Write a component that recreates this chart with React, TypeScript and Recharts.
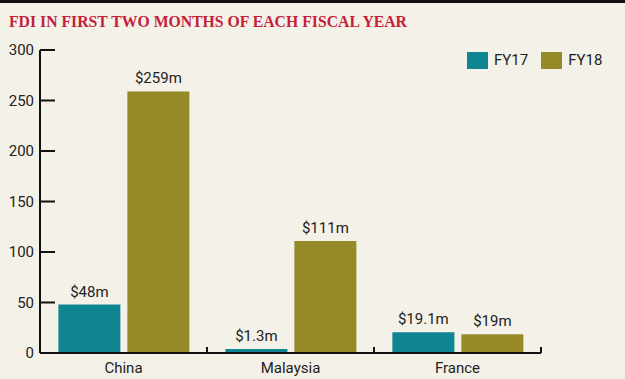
import React from "react";
import { BarChart, Bar, XAxis, YAxis, LabelList } from "recharts";

const categories = ["China", "Malaysia", "France"];
const fy17Values = [48, 4, 20.5];
const fy18Values = [259, 111, 18.5];
const fy17Labels = ["$48m", "$1.3m", "$19.1m"];
const fy18Labels = ["$259m", "$111m", "$19m"];
const yTicks = [0, 50, 100, 150, 200, 250, 300];
const seriesNames = ["FY17", "FY18"];
const title = "FDI IN FIRST TWO MONTHS OF EACH FISCAL YEAR";

const TEAL = "#0f8592";
const OLIVE = "#958a27";
const BG = "#f4f1e8";
const FONT = "'Liberation Sans Narrow', 'Roboto', sans-serif";

const data = categories.map((c, i) => ({
  name: c,
  fy17: fy17Values[i],
  fy18: fy18Values[i],
}));

const W = 625;
const H = 379;
const M = { top: 50, right: 84, left: 0, bottom: 0 };
const Y_W = 40;
const BAND = (W - M.left - M.right - Y_W) / categories.length;

const YTick = (props: any) => {
  const { x, y, payload } = props;
  const ax = x + 5;
  return (
    <g>
      <line x1={ax} x2={ax + 15} y1={y} y2={y} stroke="#111" strokeWidth={2} />
      <text x={x - 1} y={y} dy={5} textAnchor="end" fontSize={15} fill="#222" fontFamily={FONT}>
        {payload.value}
      </text>
    </g>
  );
};

const XTick = (props: any) => {
  const { x, y, payload } = props;
  const bx = x + BAND / 2;
  return (
    <g>
      <line x1={bx} x2={bx} y1={y - 8} y2={y - 14} stroke="#111" strokeWidth={2} />
      <text x={x} y={y} dy={12} textAnchor="middle" fontSize={15} fill="#222" fontFamily={FONT}>
        {payload.value}
      </text>
    </g>
  );
};

const makeLabel = (labels: string[]) => (props: any) => {
  const { x, y, width, index } = props;
  return (
    <text x={x + width / 2} y={y - 8} textAnchor="middle" fontSize={15} fill="#222" fontFamily={FONT}>
      {labels[index]}
    </text>
  );
};

const LegendBox = () => (
  <div
    style={{
      position: "absolute",
      left: 467,
      top: 52,
      display: "flex",
      alignItems: "center",
      fontFamily: FONT,
      fontSize: 15,
      color: "#222",
      lineHeight: "17px",
    }}
  >
    <span style={{ width: 21, height: 17, background: TEAL, display: "inline-block", marginRight: 6 }} />
    <span style={{ marginRight: 13 }}>{seriesNames[0]}</span>
    <span style={{ width: 21, height: 17, background: OLIVE, display: "inline-block", marginRight: 6 }} />
    <span>{seriesNames[1]}</span>
  </div>
);

export default function App() {
  return (
    <div style={{ position: "absolute", left: 0, top: 0, width: W, height: H, background: BG, overflow: "hidden" }}>
      <div style={{ position: "absolute", left: 0, top: 0, width: W, height: 3, background: "#111" }} />
      <svg style={{ position: "absolute", left: 0, top: 0 }} width={W} height={40}>
        <text
          x={9}
          y={27}
          fontFamily="'Liberation Serif', serif"
          fontWeight="bold"
          fontSize={17}
          fill="#c41e3a"
          textLength={398}
          lengthAdjust="spacingAndGlyphs"
        >
          {title}
        </text>
      </svg>
      <div style={{ position: "absolute", left: 0, top: 0 }}>
        <BarChart width={W} height={H} data={data} margin={M} barCategoryGap="11%" barGap={7}>
          <XAxis
            dataKey="name"
            height={26}
            axisLine={{ stroke: "#111", strokeWidth: 2 }}
            tickLine={false}
            tick={<XTick />}
            interval={0}
          />
          <YAxis
            width={Y_W}
            domain={[0, 300]}
            ticks={yTicks}
            axisLine={{ stroke: "#111", strokeWidth: 2 }}
            tickLine={false}
            tickSize={0}
            tickMargin={5}
            tick={<YTick />}
            interval={0}
          />
          <Bar dataKey="fy17" name={seriesNames[0]} fill={TEAL} isAnimationActive={false}>
            <LabelList dataKey="fy17" content={makeLabel(fy17Labels)} />
          </Bar>
          <Bar dataKey="fy18" name={seriesNames[1]} fill={OLIVE} isAnimationActive={false}>
            <LabelList dataKey="fy18" content={makeLabel(fy18Labels)} />
          </Bar>
        </BarChart>
      </div>
      <LegendBox />
    </div>
  );
}
